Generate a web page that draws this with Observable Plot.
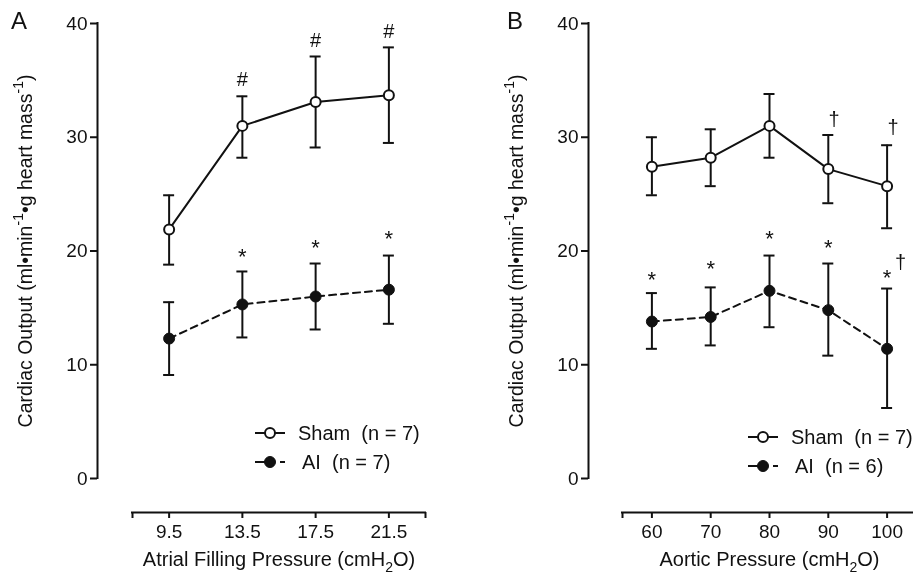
<!DOCTYPE html>
<html><head><meta charset="utf-8">
<script src="https://cdn.jsdelivr.net/npm/d3@7"></script>
<script src="https://cdn.jsdelivr.net/npm/@observablehq/plot@0.6"></script>
<style>
html,body{margin:0;padding:0;background:#fff;overflow:hidden;}
#wrap{position:relative;width:913px;height:576px;overflow:hidden;font-family:"Liberation Sans",Arial,Helvetica,sans-serif;color:#111;background:#fff;will-change:transform;-webkit-font-smoothing:antialiased;}
.panel{position:absolute;top:0;}
.letter{position:absolute;font-size:24px;line-height:1;top:9px;}
.leg{position:absolute;display:flex;align-items:center;font-size:20px;white-space:pre;line-height:1;transform:translateY(-50%);}
.leg svg{display:block;overflow:visible;}
</style></head><body><div id="wrap"></div>
<script>
// ---------- shared ----------
const yDomain = [0, 40];
const yTicks = [0, 10, 20, 30, 40];
const yLabelParts = [["Cardiac Output (ml•min", 0], ["-1", 1], ["•g heart mass", 0], ["-1", 1], [")", 0]];
const panelLetters = ["A", "B"];

// ---------- panel A ----------
const xA = [9.5, 13.5, 17.5, 21.5];
const xDomainA = [7.5, 23.5];
const shamA   = [21.9, 31.0, 33.1, 33.7];
const shamAHi = [24.9, 33.6, 37.1, 37.9];
const shamALo = [18.8, 28.2, 29.1, 29.5];
const aiA     = [12.3, 15.3, 16.0, 16.6];
const aiAHi   = [15.5, 18.2, 18.9, 19.6];
const aiALo   = [9.1, 12.4, 13.1, 13.6];
const annAX = [13.5, 17.5, 21.5, 13.5, 17.5, 21.5];
const annAY = [35.1, 38.5, 39.3, 19.9, 20.7, 21.5];
const annAT = ["#", "#", "#", "*", "*", "*"];
const xLabelAParts = [["Atrial Filling Pressure (cmH", 0], ["2", -1], ["O)", 0]];
const legendA = ["Sham  (n = 7)", "AI  (n = 7)"];

// ---------- panel B ----------
const xB = [60, 70, 80, 90, 100];
const xDomainB = [55, 105];
const shamB   = [27.4, 28.2, 31.0, 27.2, 25.7];
const shamBHi = [30.0, 30.7, 33.8, 30.2, 29.3];
const shamBLo = [24.9, 25.7, 28.2, 24.2, 22.0];
const aiB     = [13.8, 14.2, 16.5, 14.8, 11.4];
const aiBHi   = [16.3, 16.8, 19.6, 18.9, 16.7];
const aiBLo   = [11.4, 11.7, 13.3, 10.8, 6.2];
const annBX = [91, 101, 60, 70, 80, 90, 100, 102.3];
const annBY = [31.6, 30.9, 17.9, 18.9, 21.5, 20.7, 18.1, 19.1];
const annBT = ["†", "†", "*", "*", "*", "*", "*", "†"];
const xLabelBParts = [["Aortic Pressure (cmH", 0], ["2", -1], ["O)", 0]];
const legendB = ["Sham  (n = 7)", "AI  (n = 6)"];

const ink = "#111";
const font = '"Liberation Sans", Arial, Helvetica, sans-serif';
const glyphDy = {"*": 5, "#": 0, "†": 1};
const glyphSize = {"*": 22, "#": 20, "†": 20};

function joinParts(parts){ return parts.map(p => p[0]).join(""); }

function richify(svg, parts){
  const full = joinParts(parts);
  const ns = "http://www.w3.org/2000/svg";
  svg.querySelectorAll("text").forEach(t => {
    if (t.textContent !== full) return;
    while (t.firstChild) t.removeChild(t.firstChild);
    const fs = parseFloat(t.getAttribute("font-size")) || parseFloat(getComputedStyle(t).fontSize) || 20;
    let cur = 0;
    parts.forEach(([s, kind]) => {
      const ts = document.createElementNS(ns, "tspan");
      const target = kind === 1 ? -0.42 * fs : kind === -1 ? 0.3 * fs : 0;
      const d = target - cur;
      if (d !== 0) ts.setAttribute("dy", d.toFixed(2));
      if (kind !== 0) ts.setAttribute("font-size", (0.7 * fs).toFixed(1));
      ts.textContent = s;
      t.appendChild(ts);
      cur = target;
    });
  });
}

function panel(cfg){
  const rows = (ys, lo, hi) => cfg.x.map((x, i) => ({x, y: ys[i], lo: lo[i], hi: hi[i]}));
  const sham = rows(cfg.sham, cfg.shamLo, cfg.shamHi);
  const ai = rows(cfg.ai, cfg.aiLo, cfg.aiHi);
  const bars = sham.concat(ai);
  const ann = cfg.annX.map((x, i) => ({x, y: cfg.annY[i], t: cfg.annT[i]}));
  const insetBottom = 34;
  const annMarks = Object.keys(glyphDy).map(g =>
    Plot.text(ann.filter(d => d.t === g), {x: "x", y: "y", text: "t", fontSize: glyphSize[g], lineAnchor: "middle", dy: glyphDy[g], fill: ink})
  );
  const svg = Plot.plot({
    width: cfg.width, height: 576,
    marginTop: 23, marginBottom: 64, insetBottom,
    marginLeft: cfg.marginLeft, insetLeft: cfg.insetLeft, marginRight: cfg.marginRight,
    x: {domain: cfg.xDomain},
    y: {domain: yDomain},
    style: {fontFamily: font, fontSize: "19px", color: ink, background: "transparent", overflow: "visible"},
    marks: [
      Plot.axisY({ticks: yTicks, tickSize: 7, tickPadding: 3, label: null, strokeWidth: 2, tickFormat: d => String(d)}),
      Plot.axisX({ticks: cfg.x, tickSize: 6, tickPadding: 6, label: null, strokeWidth: 2, tickFormat: d => String(d)}),
      Plot.axisX({ticks: cfg.xDomain, tickSize: 6, tickFormat: () => "", label: null, strokeWidth: 2}),
      Plot.ruleX([cfg.xDomain[0]], {y1: yDomain[0], y2: yDomain[1], dx: -cfg.insetLeft, stroke: ink, strokeWidth: 2, strokeLinecap: "square"}),
      Plot.ruleY([yDomain[0]], {x1: cfg.xDomain[0], x2: cfg.xDomain[1], dy: insetBottom, stroke: ink, strokeWidth: 2, strokeLinecap: "square"}),
      Plot.ruleX(bars, {x: "x", y1: "lo", y2: "hi", stroke: ink, strokeWidth: 2}),
      Plot.ruleY(bars, {y: "hi", x1: "x", x2: "x", insetLeft: -5.5, insetRight: -5.5, stroke: ink, strokeWidth: 2}),
      Plot.ruleY(bars, {y: "lo", x1: "x", x2: "x", insetLeft: -5.5, insetRight: -5.5, stroke: ink, strokeWidth: 2}),
      Plot.line(sham, {x: "x", y: "y", stroke: ink, strokeWidth: 2}),
      Plot.line(ai, {x: "x", y: "y", stroke: ink, strokeWidth: 2, strokeDasharray: "7,5"}),
      Plot.dot(sham, {x: "x", y: "y", r: 5, fill: "white", stroke: ink, strokeWidth: 2}),
      Plot.dot(ai, {x: "x", y: "y", r: 5.5, fill: ink, stroke: ink, strokeWidth: 1}),
      ...annMarks,
      Plot.text([{t: joinParts(yLabelParts), v: d3.mean(yDomain)}], {y: "v", text: "t", frameAnchor: "left", textAnchor: "middle", dx: -72, rotate: -90, fontSize: 19.5, lineAnchor: "middle", fill: ink}),
      Plot.text([{t: joinParts(cfg.xLabelParts), v: d3.mean(cfg.xDomain)}], {x: "v", text: "t", frameAnchor: "bottom", textAnchor: "middle", dy: 47, fontSize: 20, lineAnchor: "middle", fill: ink})
    ]
  });
  richify(svg, yLabelParts);
  richify(svg, cfg.xLabelParts);
  return svg;
}

function legend(wrap, labels, left, tops){
  const ns = "http://www.w3.org/2000/svg";
  labels.forEach((lab, i) => {
    const row = document.createElement("div");
    row.className = "leg";
    row.style.left = left + "px";
    row.style.top = tops[i] + "px";
    const s = document.createElementNS(ns, "svg");
    s.setAttribute("width", 32); s.setAttribute("height", 14);
    const mk = (tag, attrs) => { const e = document.createElementNS(ns, tag); for (const k in attrs) e.setAttribute(k, attrs[k]); s.appendChild(e); };
    if (i === 0) {
      mk("line", {x1: 0, x2: 30, y1: 7, y2: 7, stroke: ink, "stroke-width": 2});
      mk("circle", {cx: 15, cy: 7, r: 5, fill: "white", stroke: ink, "stroke-width": 2});
    } else {
      mk("line", {x1: 0, x2: 12, y1: 7, y2: 7, stroke: ink, "stroke-width": 2});
      mk("line", {x1: 25, x2: 30, y1: 7, y2: 7, stroke: ink, "stroke-width": 2});
      mk("circle", {cx: 15, cy: 7, r: 5.5, fill: ink, stroke: ink, "stroke-width": 1});
    }
    row.appendChild(s);
    const sp = document.createElement("span");
    sp.textContent = lab;
    sp.style.marginLeft = (i === 0 ? 11 : 15) + "px";
    row.appendChild(sp);
    wrap.appendChild(row);
  });
}

const wrap = document.getElementById("wrap");
const svgA = panel({x: xA, xDomain: xDomainA, sham: shamA, shamLo: shamALo, shamHi: shamAHi, ai: aiA, aiLo: aiALo, aiHi: aiAHi,
  annX: annAX, annY: annAY, annT: annAT, xLabelParts: xLabelAParts, width: 453, marginLeft: 97, insetLeft: 35, marginRight: 28});
const svgB = panel({x: xB, xDomain: xDomainB, sham: shamB, shamLo: shamBLo, shamHi: shamBHi, ai: aiB, aiLo: aiBLo, aiHi: aiBHi,
  annX: annBX, annY: annBY, annT: annBT, xLabelParts: xLabelBParts, width: 470, marginLeft: 135, insetLeft: 34, marginRight: 7});
[svgA, svgB].forEach((s, i) => { s.classList.add("panel"); s.style.left = (i === 0 ? 0 : 453) + "px"; wrap.appendChild(s); });

legend(wrap, legendA, 255, [433, 462]);
legend(wrap, legendB, 748, [437, 466]);

panelLetters.forEach((L, i) => {
  const d = document.createElement("div");
  d.className = "letter";
  d.textContent = L;
  d.style.left = (i === 0 ? 11 : 507) + "px";
  wrap.appendChild(d);
});
</script></body></html>
